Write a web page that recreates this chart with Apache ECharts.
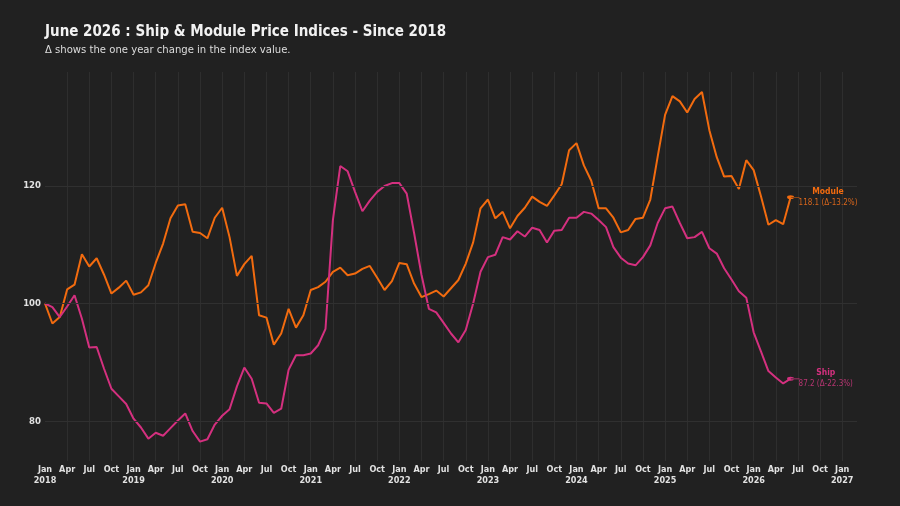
<!DOCTYPE html>
<html>
<head>
<meta charset="utf-8">
<script src="https://cdn.jsdelivr.net/npm/echarts@6/dist/echarts.min.js"></script>
<style>
html,body{margin:0;padding:0;background:#212121;}
#chart{width:900px;height:506px;}
</style>
</head>
<body>
<div id="chart"></div>
<script>
var fontFam = "'Liberation Sans Narrow', 'DejaVu Sans Condensed', Roboto, sans-serif";
var monthNames = ['Jan','Feb','Mar','Apr','May','Jun','Jul','Aug','Sep','Oct','Nov','Dec'];
var startYear = 2018;
var lastTick = 108; // Jan 2027
var yTicks = [80, 100, 120];

// index values, monthly from Jan 2018 to Jun 2026
var moduleIdx = [
	100.0, 96.6, 97.7, 102.4, 103.2, 108.4, 106.3, 107.7, 104.9, 101.7, 102.7, 103.9,
	101.5, 101.9, 103.1, 106.9, 110.2, 114.5, 116.7, 116.9, 112.2, 112.0, 111.1, 114.6,
	116.3, 111.3, 104.7, 106.7, 108.1, 98.0, 97.6, 93.0, 94.9, 99.1, 95.9, 98.0,
	102.3, 102.8, 103.7, 105.4, 106.1, 104.8, 105.1, 105.9, 106.4, 104.4, 102.3, 103.8,
	106.9, 106.7, 103.4, 101.1, 101.6, 102.2, 101.2, 102.6, 104.0, 106.8, 110.4, 116.2,
	117.7, 114.5, 115.6, 112.8, 114.9, 116.3, 118.2, 117.3, 116.6, 118.4, 120.3, 126.1,
	127.3, 123.5, 120.9, 116.2, 116.2, 114.6, 112.1, 112.5, 114.4, 114.6, 117.7, 125.0,
	132.1, 135.3, 134.4, 132.5, 134.8, 136.0, 129.5, 124.9, 121.6, 121.7, 119.5, 124.4,
	122.7, 118.2, 113.4, 114.2, 113.5, 118.1
];
var shipIdx = [
	100.0, 99.4, 97.7, 99.5, 101.4, 97.4, 92.5, 92.6, 88.9, 85.5, 84.2, 82.9,
	80.4, 78.9, 77.0, 78.0, 77.5, 78.8, 80.1, 81.3, 78.3, 76.5, 76.9, 79.4,
	80.9, 82.0, 85.9, 89.1, 87.2, 83.1, 83.0, 81.4, 82.1, 88.7, 91.2, 91.2,
	91.5, 92.9, 95.7, 114.2, 123.4, 122.5, 119.0, 115.7, 117.5, 119.0, 120.0, 120.5,
	120.5, 118.7, 112.0, 104.9, 99.1, 98.5, 96.7, 94.9, 93.4, 95.5, 100.0, 105.4,
	107.9, 108.3, 111.3, 110.9, 112.3, 111.4, 112.9, 112.5, 110.4, 112.4, 112.5, 114.6,
	114.6, 115.6, 115.3, 114.2, 113.0, 109.6, 107.8, 106.8, 106.5, 107.9, 109.9, 113.7,
	116.2, 116.5, 113.7, 111.1, 111.3, 112.2, 109.4, 108.5, 106.0, 104.1, 102.1, 101.0,
	95.1, 91.8, 88.5, 87.4, 86.4, 87.2
];
var moduleChange = '-13.2%';
var shipChange = '-22.3%';

// month categories, running a little past Jan 2027 so the axis has room on the right
var months = [];
for (var i = 0; i <= 110; i++) {
	months.push(monthNames[i % 12] + ' ' + (startYear + Math.floor(i / 12)));
}

function isQuarter(idx) {
	return idx % 3 === 0 && idx <= lastTick;
}

// last point gets a dot with a short tick towards the label
function withEndDot(values) {
	var out = values.slice();
	var n = out.length - 1;
	out[n] = {
		value: out[n],
		symbol: 'path://M0,3.5a3.5,3.5 0 1,0 7,0a3.5,3.5 0 1,0 -7,0z M3.5,3h9v1.2h-9z',
		symbolSize: [12.5, 7],
		symbolOffset: [2.75, 0],
		symbolKeepAspect: true
	};
	return out;
}

function makeSeries(name, values, color, dim, change) {
	return {
		name: name,
		type: 'line',
		data: withEndDot(values),
		symbol: 'circle',
		symbolSize: 0,
		showSymbol: true,
		showAllSymbol: true,
		lineStyle: { color: color, width: 2 },
		itemStyle: { color: color },
		emphasis: { disabled: true },
		endLabel: {
			show: true,
			distance: 8,
			formatter: function (p) {
				return '{n|' + name + '}\n{v|' + p.value + ' (Δ' + change + ')}';
			},
			rich: {
				n: { color: color, fontFamily: fontFam, fontWeight: 'bold', fontSize: 8.5, align: 'center', lineHeight: 11 },
				v: { color: dim, fontFamily: fontFam, fontSize: 8, align: 'center', lineHeight: 11 }
			}
		}
	};
}

var dom = document.getElementById('chart');
var myChart = echarts.init(dom);
var gridLines = [];
for (var k = 0; k < yTicks.length; k++) {
	gridLines.push({ yAxis: yTicks[k] });
}

var seriesModule = makeSeries('Module', moduleIdx, '#f26b0f', '#d8661c', moduleChange);
var seriesShip = makeSeries('Ship', shipIdx, '#d4307f', '#b83572', shipChange);
// horizontal grid lines at the labelled values
seriesShip.markLine = {
	silent: true,
	symbol: 'none',
	label: { show: false },
	lineStyle: { color: '#303030', width: 1, type: 'solid' },
	data: gridLines
};

var option = {
	backgroundColor: '#212121',
	animation: false,
	title: {
		text: 'June 2026 : Ship & Module Price Indices - Since 2018',
		subtext: 'Δ shows the one year change in the index value.',
		left: 40,
		top: 20,
		itemGap: 5,
		textStyle: { color: '#f2f2f2', fontFamily: fontFam, fontWeight: 'bold', fontSize: 15 },
		subtextStyle: { color: '#dcdcdc', fontFamily: fontFam, fontSize: 11.2 }
	},
	grid: { left: 45, right: 43, top: 72, bottom: 45 },
	xAxis: {
		type: 'category',
		boundaryGap: false,
		data: months,
		axisLine: { show: false },
		axisTick: { show: false },
		axisLabel: {
			interval: function (idx) { return isQuarter(idx); },
			color: '#e2e2e2',
			fontFamily: fontFam,
			fontWeight: 'bold',
			fontSize: 9,
			lineHeight: 11,
			margin: 3,
			formatter: function (val, idx) {
				var parts = val.split(' ');
				return parts[0] === 'Jan' ? parts[0] + '\n' + parts[1] : parts[0];
			}
		},
		splitLine: {
			show: true,
			interval: function (idx) { return isQuarter(idx) && idx > 0; },
			lineStyle: { color: '#2e2e2e', width: 1 }
		}
	},
	yAxis: {
		type: 'value',
		min: 73.2,
		max: 139.4,
		axisLine: { show: false },
		axisTick: { show: false },
		splitLine: { show: false },
		axisLabel: {
			customValues: yTicks,
			color: '#e2e2e2',
			fontFamily: fontFam,
			fontWeight: 'bold',
			fontSize: 9.5,
			margin: 4
		}
	},
	series: [seriesModule, seriesShip]
};
myChart.setOption(option, true);
</script>
</body>
</html>
